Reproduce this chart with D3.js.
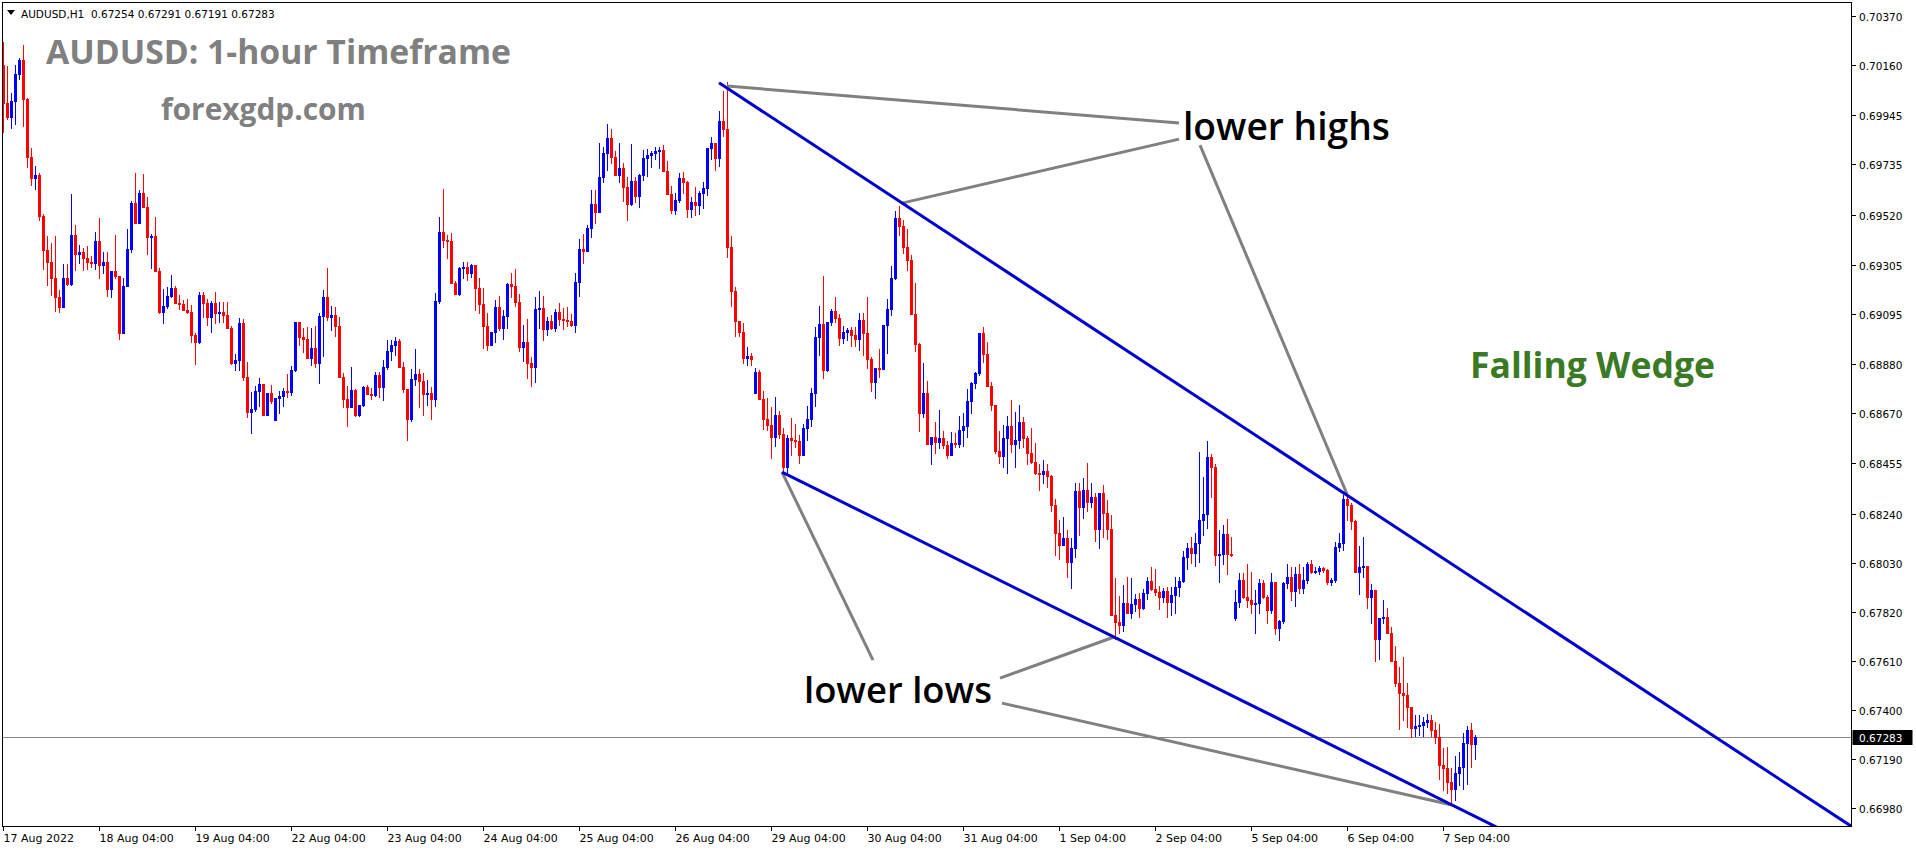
<!DOCTYPE html>
<html><head><meta charset="utf-8">
<script src="https://cdn.jsdelivr.net/npm/d3@7"></script>
<style>html,body{margin:0;padding:0;background:#fff;overflow:hidden}</style>
</head><body>
<svg id="c" width="1916" height="850"></svg>
<script>
// ---------------- DATA ----------------
const symbolInfo = "AUDUSD,H1  0.67254 0.67291 0.67191 0.67283";
const titleText = "AUDUSD: 1-hour Timeframe";
const siteText = "forexgdp.com";
const patternText = "Falling Wedge";
const highsLabel = "lower highs";
const lowsLabel = "lower lows";
const firstOpen = 0.70160;
// opens after weekend gaps (bar index -> open)
const gapOpens = {68: 0.68640, 188: 0.68756, 308: 0.67793};
const closes = [
0.69997,0.69937,0.70006,0.70121,0.70181,0.70014,0.69766,0.69676,0.69689,0.69514,
0.69368,0.69317,0.69248,0.69167,0.69124,0.69248,0.69222,0.69432,0.69351,0.69359,
0.69334,0.69317,0.69312,0.69407,0.69304,0.69317,0.69201,0.69278,0.69257,0.69013,
0.69214,0.69372,0.69569,0.69484,0.69612,0.69552,0.69424,0.69428,0.69278,0.69103,
0.69128,0.69171,0.69205,0.69141,0.69137,0.69111,0.69103,0.69004,0.68974,0.69175,
0.69141,0.69081,0.69141,0.69098,0.69103,0.69090,0.69034,0.68884,0.68897,0.69056,
0.68824,0.68675,0.68688,0.68765,0.68795,0.68662,0.68756,0.68722,0.68735,0.68743,
0.68765,0.68760,0.68854,0.69060,0.68996,0.68987,0.68906,0.68949,0.68884,0.69086,
0.69167,0.69081,0.69090,0.69043,0.68824,0.68730,0.68696,0.68769,0.68662,0.68705,
0.68782,0.68752,0.68747,0.68833,0.68782,0.68867,0.68936,0.68961,0.68979,0.68867,
0.68773,0.68645,0.68816,0.68837,0.68807,0.68752,0.68756,0.68730,0.69150,0.69445,
0.69411,0.69407,0.69227,0.69180,0.69291,0.69295,0.69270,0.69304,0.69205,0.69137,
0.69043,0.68961,0.69017,0.69124,0.69034,0.69086,0.69222,0.69214,0.69145,0.68953,
0.68974,0.68884,0.68867,0.69116,0.69120,0.69030,0.69064,0.69034,0.69103,0.69073,
0.69068,0.69064,0.69047,0.69231,0.69372,0.69364,0.69462,0.69565,0.69531,0.69680,
0.69783,0.69847,0.69766,0.69689,0.69719,0.69638,0.69565,0.69663,0.69599,0.69689,
0.69762,0.69775,0.69783,0.69792,0.69796,0.69706,0.69608,0.69539,0.69582,0.69676,
0.69659,0.69544,0.69573,0.69561,0.69612,0.69633,0.69805,0.69826,0.69762,0.69920,
0.69886,0.69381,0.69193,0.69064,0.69017,0.68906,0.68914,0.68902,0.68846,0.68730,
0.68645,0.68619,0.68568,0.68662,0.68580,0.68439,0.68563,0.68555,0.68551,0.68491,
0.68606,0.68645,0.68756,0.68996,0.69051,0.68854,0.69060,0.69107,0.69077,0.68991,
0.69017,0.69026,0.69004,0.68987,0.69068,0.69013,0.68902,0.68803,0.68863,0.68859,
0.69047,0.69116,0.69248,0.69505,0.69471,0.69381,0.69325,0.69094,0.68966,0.68670,
0.68756,0.68538,0.68568,0.68546,0.68563,0.68533,0.68491,0.68542,0.68538,0.68598,
0.68615,0.68722,0.68799,0.68842,0.69013,0.68923,0.68786,0.68705,0.68508,0.68486,
0.68563,0.68615,0.68538,0.68555,0.68632,0.68563,0.68499,0.68461,0.68414,0.68410,
0.68422,0.68401,0.68277,0.68157,0.68105,0.68135,0.68033,0.68093,0.68337,0.68268,
0.68341,0.68289,0.68311,0.68174,0.68328,0.68242,0.68174,0.67806,0.67776,0.67763,
0.67857,0.67814,0.67853,0.67874,0.67836,0.67900,0.67951,0.67917,0.67904,0.67883,
0.67909,0.67861,0.67891,0.67926,0.67951,0.68054,0.68093,0.68071,0.68114,0.68212,
0.68238,0.68482,0.68439,0.68063,0.68067,0.68153,0.68067,0.68063,0.67861,0.67956,
0.67883,0.67870,0.67853,0.67857,0.67943,0.67883,0.67827,0.67947,0.67750,0.67780,
0.67943,0.67969,0.67909,0.67981,0.67922,0.67956,0.68024,0.67990,0.67994,0.68007,
0.67998,0.67947,0.67956,0.68097,0.68114,0.68302,0.68277,0.68208,0.67990,0.68011,
0.68016,0.67883,0.67913,0.67703,0.67793,0.67797,0.67729,0.67609,0.67515,0.67472,
0.67463,0.67412,0.67322,0.67331,0.67335,0.67348,0.67356,0.67314,0.67284,0.67164,
0.67151,0.67091,0.67061,0.67130,0.67155,0.67258,0.67314,0.67254,0.67283];
const highs = [
0.70258,0.70156,0.70040,0.70160,0.70190,0.70245,0.70019,0.69805,0.69728,0.69698,
0.69522,0.69428,0.69398,0.69428,0.69197,0.69308,0.69308,0.69608,0.69475,0.69389,
0.69377,0.69385,0.69342,0.69445,0.69505,0.69359,0.69359,0.69278,0.69432,0.69257,
0.69248,0.69458,0.69578,0.69698,0.69625,0.69693,0.69595,0.69436,0.69509,0.69291,
0.69201,0.69210,0.69261,0.69214,0.69175,0.69154,0.69158,0.69133,0.69013,0.69188,
0.69188,0.69158,0.69150,0.69188,0.69145,0.69145,0.69145,0.69043,0.68923,0.69077,
0.69073,0.68889,0.68760,0.68786,0.68820,0.68790,0.68756,0.68790,0.68735,0.68765,
0.68777,0.68837,0.68872,0.69060,0.69060,0.69034,0.69038,0.69034,0.69043,0.69098,
0.69197,0.69291,0.69128,0.69124,0.69081,0.68842,0.68786,0.68867,0.68773,0.68705,
0.68786,0.68790,0.68777,0.68846,0.68846,0.68897,0.68983,0.68983,0.68996,0.68987,
0.68889,0.68773,0.68859,0.68944,0.68859,0.68842,0.68812,0.68782,0.69184,0.69509,
0.69629,0.69432,0.69441,0.69235,0.69295,0.69317,0.69317,0.69308,0.69304,0.69248,
0.69205,0.69098,0.69017,0.69154,0.69171,0.69111,0.69227,0.69270,0.69287,0.69180,
0.69047,0.69073,0.68910,0.69167,0.69193,0.69171,0.69081,0.69090,0.69116,0.69141,
0.69120,0.69124,0.69094,0.69270,0.69415,0.69436,0.69475,0.69625,0.69625,0.69826,
0.69809,0.69907,0.69886,0.69792,0.69826,0.69740,0.69680,0.69822,0.69680,0.69693,
0.69796,0.69800,0.69792,0.69809,0.69809,0.69817,0.69749,0.69642,0.69612,0.69698,
0.69702,0.69663,0.69595,0.69638,0.69621,0.69659,0.69805,0.69851,0.69826,0.69963,
0.70048,0.70087,0.69428,0.69210,0.69064,0.69056,0.68953,0.68927,0.68863,0.68854,
0.68765,0.68735,0.68696,0.68739,0.68679,0.68606,0.68576,0.68649,0.68623,0.68576,
0.68623,0.68700,0.68777,0.69038,0.69128,0.69257,0.69060,0.69116,0.69167,0.69094,
0.69043,0.69034,0.69038,0.69038,0.69098,0.69098,0.69167,0.68910,0.68863,0.68944,
0.69047,0.69158,0.69300,0.69535,0.69556,0.69496,0.69458,0.69347,0.69227,0.68970,
0.68884,0.68807,0.68568,0.68632,0.68683,0.68593,0.68551,0.68589,0.68585,0.68658,
0.68670,0.68773,0.68803,0.68846,0.69013,0.69038,0.68974,0.68803,0.68705,0.68593,
0.68619,0.68658,0.68726,0.68675,0.68705,0.68653,0.68572,0.68606,0.68542,0.68452,
0.68469,0.68452,0.68405,0.68302,0.68212,0.68225,0.68170,0.68135,0.68371,0.68371,
0.68392,0.68456,0.68371,0.68328,0.68328,0.68362,0.68298,0.68234,0.67964,0.67887,
0.67934,0.67969,0.67964,0.67896,0.67900,0.67917,0.67969,0.68011,0.68003,0.67930,
0.67921,0.67926,0.67926,0.67969,0.67969,0.68080,0.68114,0.68140,0.68157,0.68503,
0.68396,0.68551,0.68495,0.68452,0.68170,0.68191,0.68217,0.68140,0.67913,0.67986,
0.67986,0.68024,0.67990,0.67913,0.67960,0.67956,0.67891,0.67986,0.67947,0.67784,
0.67947,0.68024,0.68011,0.68011,0.68024,0.68011,0.68033,0.68041,0.68011,0.68016,
0.68011,0.68003,0.67964,0.68118,0.68157,0.68319,0.68319,0.68285,0.68212,0.68101,
0.68140,0.68016,0.67938,0.67913,0.67793,0.67870,0.67836,0.67754,0.67673,0.67584,
0.67626,0.67515,0.67412,0.67378,0.67378,0.67369,0.67382,0.67378,0.67348,0.67339,
0.67237,0.67241,0.67151,0.67202,0.67220,0.67301,0.67331,0.67344,0.67291];
const lows = [
0.69873,0.69929,0.69890,0.69907,0.70100,0.69899,0.69723,0.69646,0.69629,0.69496,
0.69287,0.69218,0.69175,0.69107,0.69103,0.69124,0.69218,0.69218,0.69282,0.69312,
0.69282,0.69287,0.69295,0.69287,0.69248,0.69270,0.69171,0.69167,0.69248,0.68987,
0.69013,0.69214,0.69359,0.69484,0.69484,0.69552,0.69351,0.69291,0.69278,0.69098,
0.69056,0.69120,0.69167,0.69141,0.69116,0.69111,0.69098,0.68974,0.68880,0.68970,
0.69081,0.69047,0.69017,0.69056,0.69060,0.69060,0.69034,0.68880,0.68854,0.68854,
0.68812,0.68653,0.68585,0.68679,0.68700,0.68662,0.68662,0.68713,0.68640,0.68670,
0.68700,0.68739,0.68747,0.68850,0.68961,0.68931,0.68906,0.68876,0.68867,0.68799,
0.68914,0.69068,0.69026,0.69000,0.68824,0.68696,0.68615,0.68696,0.68658,0.68658,
0.68700,0.68752,0.68730,0.68743,0.68739,0.68726,0.68859,0.68897,0.68919,0.68867,
0.68760,0.68555,0.68636,0.68790,0.68696,0.68662,0.68705,0.68645,0.68700,0.69141,
0.69381,0.69334,0.69227,0.69180,0.69175,0.69248,0.69240,0.69252,0.69111,0.69098,
0.68949,0.68940,0.68961,0.68974,0.69026,0.68987,0.69034,0.69167,0.69128,0.68936,
0.68893,0.68820,0.68786,0.68803,0.69034,0.68983,0.69004,0.69030,0.69021,0.69047,
0.69030,0.69043,0.69043,0.69017,0.69171,0.69312,0.69364,0.69424,0.69484,0.69531,
0.69659,0.69710,0.69740,0.69689,0.69659,0.69578,0.69496,0.69561,0.69573,0.69552,
0.69668,0.69685,0.69723,0.69758,0.69719,0.69706,0.69608,0.69526,0.69522,0.69573,
0.69612,0.69509,0.69509,0.69518,0.69522,0.69548,0.69603,0.69758,0.69710,0.69728,
0.69856,0.69338,0.69128,0.69000,0.69000,0.68884,0.68876,0.68876,0.68756,0.68730,
0.68602,0.68598,0.68478,0.68529,0.68563,0.68414,0.68414,0.68491,0.68525,0.68456,
0.68491,0.68555,0.68615,0.68700,0.68919,0.68820,0.68850,0.69047,0.69060,0.68961,
0.68970,0.68983,0.68957,0.68957,0.68940,0.68919,0.68863,0.68765,0.68735,0.68824,
0.68859,0.68927,0.69090,0.69244,0.69432,0.69355,0.69282,0.69094,0.68936,0.68593,
0.68653,0.68538,0.68452,0.68499,0.68521,0.68521,0.68478,0.68491,0.68525,0.68525,
0.68529,0.68568,0.68670,0.68777,0.68833,0.68889,0.68786,0.68683,0.68499,0.68456,
0.68439,0.68414,0.68504,0.68439,0.68521,0.68525,0.68452,0.68456,0.68410,0.68341,
0.68371,0.68354,0.68251,0.68063,0.68046,0.68105,0.67968,0.67922,0.68054,0.68148,
0.68221,0.68251,0.68268,0.68122,0.68093,0.68139,0.68131,0.67806,0.67703,0.67729,
0.67737,0.67814,0.67793,0.67823,0.67797,0.67831,0.67874,0.67913,0.67891,0.67831,
0.67861,0.67797,0.67806,0.67814,0.67887,0.67947,0.68003,0.68028,0.68016,0.68033,
0.68148,0.68178,0.68311,0.68020,0.67947,0.68024,0.67981,0.68058,0.67784,0.67840,
0.67879,0.67840,0.67814,0.67729,0.67814,0.67879,0.67772,0.67814,0.67724,0.67699,
0.67772,0.67922,0.67870,0.67844,0.67900,0.67900,0.67943,0.67986,0.67986,0.67981,
0.67990,0.67938,0.67934,0.67947,0.68080,0.68084,0.68212,0.68174,0.67990,0.67896,
0.67969,0.67836,0.67772,0.67609,0.67618,0.67772,0.67729,0.67609,0.67502,0.67318,
0.67356,0.67326,0.67284,0.67288,0.67292,0.67288,0.67326,0.67288,0.67258,0.67104,
0.67057,0.67044,0.66993,0.67014,0.67078,0.67061,0.67082,0.67155,0.67191];
const priceTicks = [0.70370,0.70160,0.69945,0.69735,0.69520,0.69305,0.69095,0.68880,0.68670,
  0.68455,0.68240,0.68030,0.67820,0.67610,0.67400,0.67190,0.66980];
const timeTickBars = [0,24,48,72,96,120,144,168,192,216,240,264,288,312,336,360];
const timeTickLabels = ["17 Aug 2022","18 Aug 04:00","19 Aug 04:00","22 Aug 04:00","23 Aug 04:00",
  "24 Aug 04:00","25 Aug 04:00","26 Aug 04:00","29 Aug 04:00","30 Aug 04:00","31 Aug 04:00",
  "1 Sep 04:00","2 Sep 04:00","5 Sep 04:00","6 Sep 04:00","7 Sep 04:00"];
const lastPrice = 0.67283;
// trend lines (bar index, price)
const upperWedge = [[179, 0.70084], [336, 0.68319]];
const lowerWedge = [[194.75, 0.68418], [362.25, 0.66993]];
// annotation pointer lines
const pointerLines = [
  [[181, 0.70070], [294, 0.69912]],
  [[224.75, 0.69569], [294, 0.69843]],
  [[299.25, 0.69817], [336, 0.68324]],
  [[217.5, 0.67613], [194.75, 0.68418]],
  [[249.25, 0.67536], [277.75, 0.67712]],
  [[249.75, 0.67429], [362.25, 0.66993]]
];

// ---------------- DRAW ----------------
const svg = d3.select("#c");
const W = 1916, H = 850;
const plotL = 2.5, plotT = 2.5, plotR = 1851.5, plotB = 826.5;
const x = d3.scaleLinear().domain([0, 368]).range([3, 1475]);
const y = d3.scaleLinear().domain([0.66980, 0.70370]).range([808, 16]);
const BULL = "#0000ff", BEAR = "#ff0000";

svg.append("rect").attr("width", W).attr("height", H).attr("fill", "#fff");
svg.append("defs").append("clipPath").attr("id", "clip")
  .append("rect").attr("x", plotL + 0.5).attr("y", plotT + 0.5)
  .attr("width", plotR - plotL - 1).attr("height", plotB - plotT - 1);

const plot = svg.append("g").attr("clip-path", "url(#clip)");

// last price line
plot.append("line").attr("x1", plotL).attr("x2", plotR)
  .attr("y1", Math.round(y(lastPrice)) + 0.5).attr("y2", Math.round(y(lastPrice)) + 0.5)
  .attr("stroke", "#8c8c8c").attr("stroke-width", 1);

// candles
const bars = closes.map((c, i) => {
  const o = i === 0 ? firstOpen : (gapOpens[i] !== undefined ? gapOpens[i] : closes[i - 1]);
  return {i, o, c, h: Math.max(highs[i], o, c), l: Math.min(lows[i], o, c)};
});
const cg = plot.append("g").attr("shape-rendering", "crispEdges");
bars.forEach(b => {
  const col = b.c >= b.o ? BULL : BEAR;
  const cx = Math.round(x(b.i));
  cg.append("line").attr("x1", cx + 0.5).attr("x2", cx + 0.5)
    .attr("y1", Math.round(y(b.h))).attr("y2", Math.round(y(b.l)) + 1)
    .attr("stroke", col).attr("stroke-width", 1);
  const yt = Math.round(y(Math.max(b.o, b.c))), yb = Math.round(y(Math.min(b.o, b.c)));
  cg.append("rect").attr("x", cx - 1).attr("width", 3)
    .attr("y", yt).attr("height", Math.max(1, yb - yt + 1)).attr("fill", col);
});

// pointer lines (gray)
const lineGen = d3.line().x(d => x(d[0])).y(d => y(d[1]));
pointerLines.forEach(p => {
  plot.append("path").attr("d", lineGen(p)).attr("stroke", "#808080")
    .attr("stroke-width", 3).attr("fill", "none");
});

// wedge lines (rays extended to the right)
function ray(pts) {
  const [a, b] = pts;
  const slope = (b[1] - a[1]) / (b[0] - a[0]);
  const endI = 520;
  return [a, [endI, a[1] + slope * (endI - a[0])]];
}
[upperWedge, lowerWedge].forEach(w => {
  plot.append("path").attr("d", lineGen(ray(w))).attr("stroke", "#0000cd")
    .attr("stroke-width", 3).attr("fill", "none");
});

// frame
const frame = svg.append("g").attr("shape-rendering", "crispEdges");
frame.append("rect").attr("x", plotL).attr("y", plotT)
  .attr("width", plotR - plotL).attr("height", plotB - plotT)
  .attr("fill", "none").attr("stroke", "#000").attr("stroke-width", 1);

// price axis
const axisFont = "'DejaVu Sans', Verdana, sans-serif";
priceTicks.forEach(p => {
  const yy = Math.round(y(p)) + 0.5;
  frame.append("line").attr("x1", plotR).attr("x2", plotR + 4).attr("y1", yy).attr("y2", yy).attr("stroke", "#000");
  svg.append("text").attr("x", 1859).attr("y", yy + 4).attr("font-family", axisFont)
    .attr("font-size", 10.5).attr("fill", "#000").text(p.toFixed(5));
});
// last price label
const ly = Math.round(y(lastPrice));
svg.append("rect").attr("x", plotR + 1).attr("y", ly - 7).attr("width", 60).attr("height", 15).attr("fill", "#000");
svg.append("text").attr("x", 1859).attr("y", ly + 4.5).attr("font-family", axisFont)
  .attr("font-size", 10.5).attr("fill", "#fff").text(lastPrice.toFixed(5));

// time axis
timeTickBars.forEach((b, k) => {
  const xx = Math.round(x(b)) + 0.5;
  frame.append("line").attr("x1", xx).attr("x2", xx).attr("y1", plotB).attr("y2", plotB + 4).attr("stroke", "#000");
  svg.append("text").attr("x", xx).attr("y", 842).attr("font-family", axisFont)
    .attr("font-size", 11).attr("fill", "#000").text(timeTickLabels[k]);
});

// header
svg.append("path").attr("d", "M7,10 L15,10 L11,15 Z").attr("fill", "#000");
const hdr = svg.append("text").attr("x", 21).attr("y", 18).attr("font-family", axisFont)
  .attr("font-size", 10.5).attr("fill", "#000").attr("xml:space", "preserve").style("white-space", "pre").text(symbolInfo);

function fit(t, target) {
  const w = t.node().getComputedTextLength();
  const fs = parseFloat(t.attr("font-size"));
  t.attr("font-size", (fs * target / w).toFixed(2));
}
const bold = "'Open Sans', 'DejaVu Sans', sans-serif";
const t1 = svg.append("text").attr("x", 46).attr("y", 64).attr("font-family", bold).attr("font-weight", 700)
  .attr("font-size", 34).attr("fill", "#808080").text(titleText);
fit(t1, 465);
const t2 = svg.append("text").attr("x", 161).attr("y", 120).attr("font-family", bold).attr("font-weight", 700)
  .attr("font-size", 30).attr("fill", "#808080").text(siteText);
fit(t2, 205);
const t3 = svg.append("text").attr("x", 1183).attr("y", 140).attr("font-family", bold).attr("font-weight", 600)
  .attr("font-size", 30).attr("fill", "#000").text(highsLabel);
fit(t3, 207);
const t4 = svg.append("text").attr("x", 804).attr("y", 703).attr("font-family", bold).attr("font-weight", 600)
  .attr("font-size", 30).attr("fill", "#000").text(lowsLabel);
fit(t4, 188);
const t5 = svg.append("text").attr("x", 1470).attr("y", 378).attr("font-family", bold).attr("font-weight", 700)
  .attr("font-size", 30).attr("fill", "#3a7a24").text(patternText);
fit(t5, 245);
</script>
</body></html>
